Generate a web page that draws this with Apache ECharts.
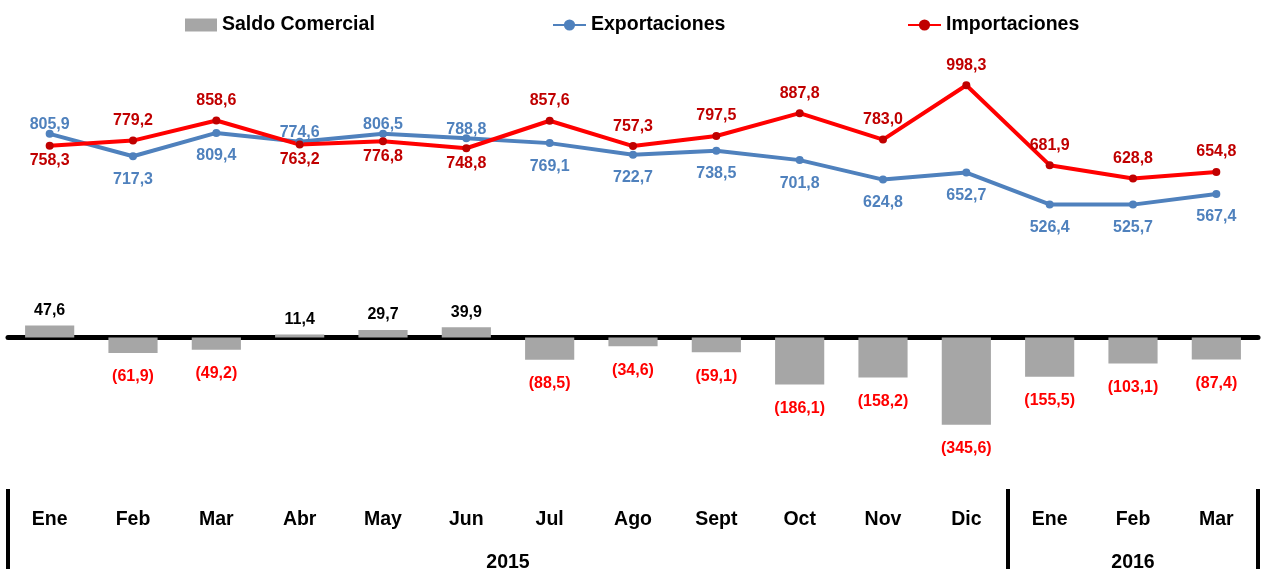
<!DOCTYPE html>
<html>
<head>
<meta charset="utf-8">
<script src="https://cdn.jsdelivr.net/npm/echarts@6/dist/echarts.min.js"></script>
<style>
html,body{margin:0;padding:0;background:#fff;}
#chart{width:1264px;height:569px;}
</style>
</head>
<body>
<div id="chart"></div>
<script>
const months = ['Ene','Feb','Mar','Abr','May','Jun','Jul','Ago','Sept','Oct','Nov','Dic','Ene','Feb','Mar'];
const years = ['2015','2016'];
const monthsPerYear = [12, 3];
const saldoComercial = [47.6,-61.9,-49.2,11.4,29.7,39.9,-88.5,-34.6,-59.1,-186.1,-158.2,-345.6,-155.5,-103.1,-87.4];
const exportaciones = [805.9,717.3,809.4,774.6,806.5,788.8,769.1,722.7,738.5,701.8,624.8,652.7,526.4,525.7,567.4];
const importaciones = [758.3,779.2,858.6,763.2,776.8,748.8,857.6,757.3,797.5,887.8,783.0,998.3,681.9,628.8,654.8];

const FONT = "'Liberation Sans Narrow','Arial Narrow','Liberation Sans',Arial,sans-serif";
const BIG = 19.5;
const SMALL = 16;
const fmt = v => v.toFixed(1).replace('.', ',');
const fmtSaldo = v => v < 0 ? '(' + fmt(-v) + ')' : fmt(v);

const chart = echarts.init(document.getElementById('chart'), null, {renderer: 'canvas'});

const barData = saldoComercial.map(v => ({
  value: v,
  label: v >= 0
    ? {position: 'top', distance: 7, color: '#000'}
    : {position: 'bottom', distance: 16, color: '#FF0000'}
}));
const expData = exportaciones.map((v, i) => {
  const up = v >= importaciones[i];
  return {value: v, label: {position: up ? 'top' : 'bottom', distance: up ? -3 : 11}};
});
const impData = importaciones.map((v, i) => {
  const up = v > exportaciones[i];
  return {value: v, label: {position: up ? 'top' : 'bottom', distance: up ? 8 : 3}};
});

const legendText = {fontFamily: FONT, fontWeight: 'bold', fontSize: BIG, color: '#000'};

chart.setOption({
  animation: false,
  textStyle: {fontFamily: FONT},
  grid: {left: 8, right: 6, top: 9, bottom: 80, containLabel: false},
  legend: [
    {data: [{name: 'Saldo Comercial', icon: 'rect'}], left: 185, top: 15, padding: 0, itemWidth: 32, itemHeight: 13, textStyle: legendText},
    {data: ['Exportaciones'], left: 552, top: 15, padding: 0, itemWidth: 33, itemHeight: 14, textStyle: legendText},
    {data: ['Importaciones'], left: 907, top: 15, padding: 0, itemWidth: 33, itemHeight: 14, textStyle: legendText}
  ],
  xAxis: [
    {type: 'category', data: months, position: 'bottom',
     axisLine: {show: true, onZero: true, lineStyle: {color: '#000', width: 5}},
     axisTick: {show: false}, axisLabel: {show: false}, splitLine: {show: false}},
    {type: 'category', data: months, position: 'bottom', offset: 0,
     axisLine: {show: false, onZero: false}, axisTick: {show: false}, splitLine: {show: false},
     axisLabel: {show: true, interval: 0, margin: 21, fontFamily: FONT, fontWeight: 'bold', fontSize: BIG, color: '#000'}}
  ],
  yAxis: {type: 'value', min: -600, max: 1300, show: false, splitLine: {show: false}},
  series: [
    {name: 'Saldo Comercial', type: 'bar', xAxisIndex: 0, data: barData, barWidth: '59%',
     itemStyle: {color: '#A6A6A6'},
     label: {show: true, formatter: p => fmtSaldo(p.value), fontFamily: FONT, fontWeight: 'bold', fontSize: SMALL}},
    {name: 'Exportaciones', type: 'line', xAxisIndex: 0, data: expData, symbol: 'circle', symbolSize: 8,
     lineStyle: {color: '#4F81BD', width: 4}, itemStyle: {color: '#4F81BD'},
     label: {show: true, formatter: p => fmt(p.value), color: '#4F81BD', fontFamily: FONT, fontWeight: 'bold', fontSize: SMALL}},
    {name: 'Importaciones', type: 'line', xAxisIndex: 0, data: impData, symbol: 'circle', symbolSize: 8,
     lineStyle: {color: '#FF0000', width: 4}, itemStyle: {color: '#C00000'},
     label: {show: true, formatter: p => fmt(p.value), color: '#C00000', fontFamily: FONT, fontWeight: 'bold', fontSize: SMALL}}
  ]
});

// Year group separators and labels, positioned from the category axis scale
const x0 = chart.convertToPixel({xAxisIndex: 0}, 0);
const x1 = chart.convertToPixel({xAxisIndex: 0}, 1);
const band = x1 - x0;
const gridBottom = chart.convertToPixel({yAxisIndex: 0}, -600);
const H = 569;
const graphics = [];
let start = 0;
const boundaries = [x0 - band / 2];
years.forEach((y, k) => {
  const end = start + monthsPerYear[k];
  const left = chart.convertToPixel({xAxisIndex: 0}, start) - band / 2;
  const right = chart.convertToPixel({xAxisIndex: 0}, end - 1) + band / 2;
  boundaries.push(right);
  graphics.push({type: 'text', x: (left + right) / 2, y: gridBottom + 74,
    style: {text: y, fontFamily: FONT, fontWeight: 'bold', fontSize: BIG, fill: '#000', align: 'center', verticalAlign: 'middle'}});
  start = end;
});
boundaries.forEach(bx => {
  graphics.push({type: 'line', shape: {x1: bx, y1: gridBottom, x2: bx, y2: H}, style: {stroke: '#000', lineWidth: 4}});
});
chart.setOption({graphic: graphics});
</script>
</body>
</html>
